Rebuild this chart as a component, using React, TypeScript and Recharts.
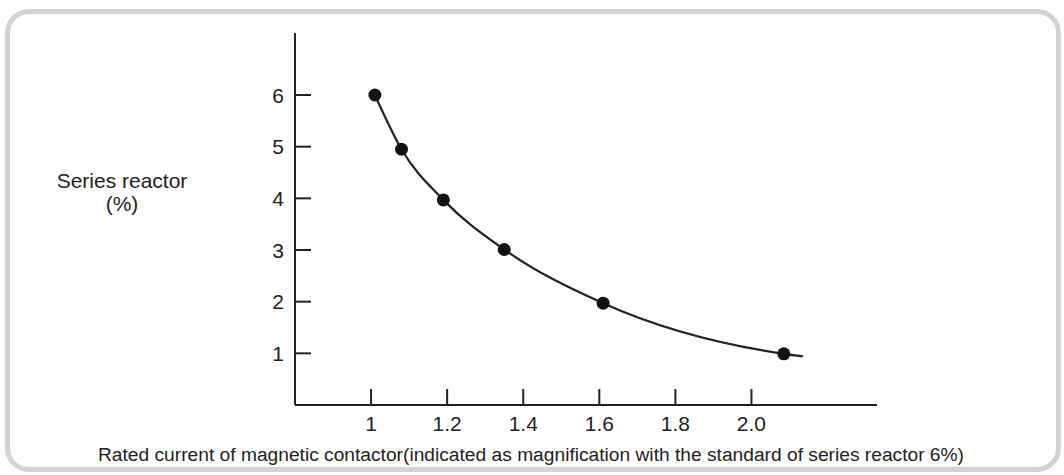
import { ComposedChart, Line, Scatter, XAxis, YAxis, Label } from 'recharts';

// magnification of rated current vs. series reactor %
const currentRatio = [1.01, 1.08, 1.19, 1.35, 1.61, 2.085];
const reactorPct = [6, 4.95, 3.97, 3.01, 1.97, 0.99];
// where the drawn curve stops, just past the last point
const curveEndX = 2.135;
const curveEndY = 0.94;

const xTicks = [1, 1.2, 1.4, 1.6, 1.8, 2.0];
const xTickLabels = ['1', '1.2', '1.4', '1.6', '1.8', '2.0'];
const yTicks = [1, 2, 3, 4, 5, 6];

const yTitle = ['Series reactor', '(%)'];
const xTitle =
  'Rated current of magnetic contactor(indicated as magnification with the standard of series reactor 6%)';

const INK = '#222';
const FONT = '"Liberation Sans", Arial, Helvetica, sans-serif';

const points = currentRatio.map((x, i) => ({ x, y: reactorPct[i] }));
const curve = [...points, { x: curveEndX, y: curveEndY }];

const YTick = (props: any) => {
  const { x, y, payload } = props;
  return (
    <g>
      <line x1={x} x2={x + 16} y1={y} y2={y} stroke={INK} strokeWidth={2} />
      <text x={x - 11} y={y} textAnchor="end" dominantBaseline="central" fill={INK} fontSize={21} fontFamily={FONT}>
        {payload.value}
      </text>
    </g>
  );
};

const XTick = (props: any) => {
  const { x, y, payload, index } = props;
  return (
    <g>
      <line x1={x} x2={x} y1={y - 16} y2={y} stroke={INK} strokeWidth={2} />
      <text x={x} y={y + 18} textAnchor="middle" dominantBaseline="central" fill={INK} fontSize={21} fontFamily={FONT}>
        {xTickLabels[index] ?? payload.value}
      </text>
    </g>
  );
};

export default function App() {
  return (
    <div style={{ position: 'absolute', left: 0, top: 0, width: 1064, height: 475, background: '#fff' }}>
      <div
        style={{
          position: 'absolute',
          left: 5,
          top: 9,
          width: 1056,
          height: 463,
          border: '5px solid #d3d3d3',
          borderRadius: 24,
          boxSizing: 'border-box',
        }}
      />
      <div style={{ position: 'absolute', left: 0, top: 0 }}>
        <ComposedChart width={1064} height={475} margin={{ top: 33, right: 187, bottom: 30, left: 235 }}>
          <XAxis
            type="number"
            dataKey="x"
            domain={[0.8, 2.33]}
            ticks={xTicks}
            allowDataOverflow
            height={40}
            tickSize={0}
            tickMargin={0}
            tickLine={false}
            axisLine={{ stroke: INK, strokeWidth: 2 }}
            tick={<XTick />}
          >
            <Label
              content={() => (
                <text x={531} y={454} textAnchor="middle" dominantBaseline="central" fill={INK} fontSize={19.2} fontFamily={FONT}>
                  {xTitle}
                </text>
              )}
            />
          </XAxis>
          <YAxis
            type="number"
            dataKey="y"
            domain={[0, 7.2]}
            ticks={yTicks}
            allowDataOverflow
            width={60}
            tickSize={0}
            tickMargin={0}
            tickLine={false}
            axisLine={{ stroke: INK, strokeWidth: 2 }}
            tick={<YTick />}
          >
            <Label
              content={() => (
                <text textAnchor="middle" fill={INK} fontSize={21} fontFamily={FONT}>
                  <tspan x={122} y={188}>{yTitle[0]}</tspan>
                  <tspan x={122} y={211}>{yTitle[1]}</tspan>
                </text>
              )}
            />
          </YAxis>
          <Line
            data={curve}
            dataKey="y"
            type="monotone"
            stroke={INK}
            strokeWidth={2.2}
            dot={false}
            activeDot={false}
            isAnimationActive={false}
          />
          <Scatter data={points} dataKey="y" fill="#111" isAnimationActive={false} shape={(p: any) => <circle cx={p.cx} cy={p.cy} r={6.5} fill="#111" />} />
        </ComposedChart>
      </div>
    </div>
  );
}
